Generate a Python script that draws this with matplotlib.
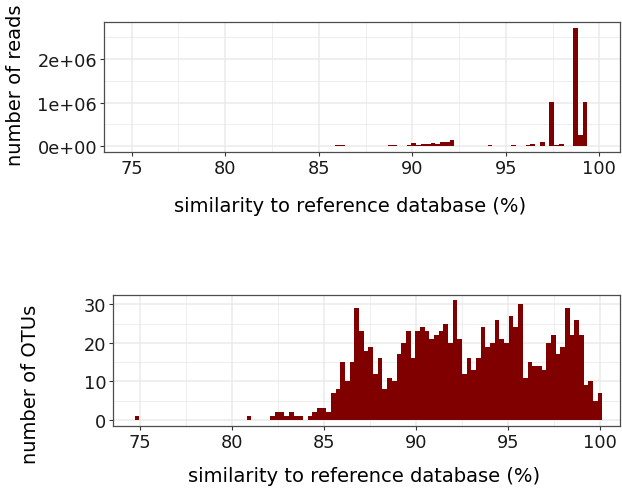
import numpy as np
import matplotlib
matplotlib.use("Agg")
import matplotlib.pyplot as plt
from matplotlib.ticker import FixedLocator, FuncFormatter

# ---------------- data ----------------
# histogram bins (100 bins, as drawn by the reference)
bin_first_center = 74.83
bin_width = 0.2542
n_bins = 100

# number of OTUs per similarity bin
otu_counts = [
    1, 0, 0, 0, 0, 0, 0, 0, 0, 0,
    0, 0, 0, 0, 0, 0, 0, 0, 0, 0,
    0, 0, 0, 0, 1, 0, 0, 0, 0, 1,
    2, 2, 1, 2, 1, 1, 0, 1, 2, 3,
    3, 2, 7, 8, 15, 10, 15, 29, 23, 18,
    19, 12, 16, 8, 11, 10, 17, 20, 23, 16,
    23, 24, 23, 21, 22, 23, 25, 20, 31, 21,
    12, 16, 13, 16, 24, 19, 20, 26, 21, 20,
    27, 24, 30, 11, 15, 14, 14, 13, 20, 22,
    17, 19, 29, 22, 26, 22, 9, 10, 5, 7,
]

# number of reads per similarity bin
read_counts = [
    0, 0, 0, 0, 0, 0, 0, 0, 0, 0,
    0, 0, 0, 0, 0, 0, 0, 0, 0, 0,
    0, 0, 0, 0, 0, 0, 0, 0, 0, 0,
    0, 0, 0, 2000, 0, 3000, 0, 2000, 4000, 0,
    8000, 0, 3000, 5000, 20000, 30000, 5000, 8000, 6000, 4000,
    7000, 5000, 6000, 5000, 8000, 30000, 40000, 10000, 15000, 20000,
    70000, 40000, 50000, 60000, 70000, 50000, 100000, 100000, 150000, 8000,
    5000, 6000, 8000, 10000, 8000, 12000, 20000, 10000, 8000, 15000,
    10000, 30000, 8000, 10000, 20000, 50000, 10000, 110000, 5000, 1010000,
    20000, 50000, 10000, 5000, 2710000, 250000, 1010000, 10000, 8000, 5000,
]

x_ticks = [75, 80, 85, 90, 95, 100]
reads_ticks = [0, 1e6, 2e6]
reads_tick_labels = ["0e+00", "1e+06", "2e+06"]
otu_ticks = [0, 10, 20, 30]

xlabel = "similarity to reference database (%)"
ylabel_top = "number of reads"
ylabel_bottom = "number of OTUs"

# ---------------- style ----------------
W, H = 622, 489
DPI = 100
bar_color = "#800000"
grid_color = "#EBEBEB"
border_color = "#4d4d4d"
plt.rcParams["font.family"] = ["DejaVu Sans"]

centers = bin_first_center + bin_width * np.arange(n_bins)

fig = plt.figure(figsize=(W / DPI, H / DPI), dpi=DPI)


def px_axes(left, top, right, bottom):
    return fig.add_axes([left / W, 1 - bottom / H, (right - left) / W, (bottom - top) / H])


def style(ax, xlim, ylim, yticks, yminor, ylabels=None):
    ax.set_xlim(*xlim)
    ax.set_ylim(*ylim)
    ax.xaxis.set_major_locator(FixedLocator(x_ticks))
    ax.xaxis.set_minor_locator(FixedLocator([77.5, 82.5, 87.5, 92.5, 97.5]))
    ax.yaxis.set_major_locator(FixedLocator(yticks))
    ax.yaxis.set_minor_locator(FixedLocator(yminor))
    if ylabels is not None:
        ax.yaxis.set_major_formatter(FuncFormatter(lambda v, p: ylabels[yticks.index(v)] if v in yticks else ""))
    ax.grid(True, which="major", color=grid_color, linewidth=1.1, zorder=0)
    ax.grid(True, which="minor", color=grid_color, linewidth=0.6, zorder=0)
    ax.set_axisbelow(True)
    for s in ax.spines.values():
        s.set_color(border_color)
        s.set_linewidth(0.9)
    ax.tick_params(which="major", length=3.0, width=0.8, color="#333333",
                   labelsize=12.8, labelcolor="#1a1a1a", pad=2.0)
    ax.tick_params(which="minor", length=0)


# top panel: reads
ax1 = px_axes(104, 22.7, 620, 153.3)
ax1.bar(centers, read_counts, width=bin_width, color=bar_color, linewidth=0, zorder=2)
style(ax1, (73.52, 101.1), (-0.1355e6, 2.8455e6), reads_ticks, [0.5e6, 1.5e6, 2.5e6], reads_tick_labels)

# bottom panel: OTUs
ax2 = px_axes(113.3, 295.5, 620, 427)
ax2.bar(centers, otu_counts, width=bin_width, color=bar_color, linewidth=0, zorder=2)
style(ax2, (73.55, 101.08), (-1.55, 32.55), otu_ticks, [5, 15, 25])

# axis titles
fs_title = 14
fig.text(350 / W, 1 - 207 / H, xlabel, ha="center", va="center", fontsize=fs_title, color="black")
fig.text(364 / W, 1 - 477 / H, xlabel, ha="center", va="center", fontsize=fs_title, color="black")
fig.text(16 / W, 1 - 85 / H, ylabel_top, ha="center", va="center", rotation=90, fontsize=fs_title, color="black")
fig.text(31 / W, 1 - 384 / H, ylabel_bottom, ha="center", va="center", rotation=90, fontsize=fs_title, color="black")

fig.savefig("out.png", dpi=DPI)
